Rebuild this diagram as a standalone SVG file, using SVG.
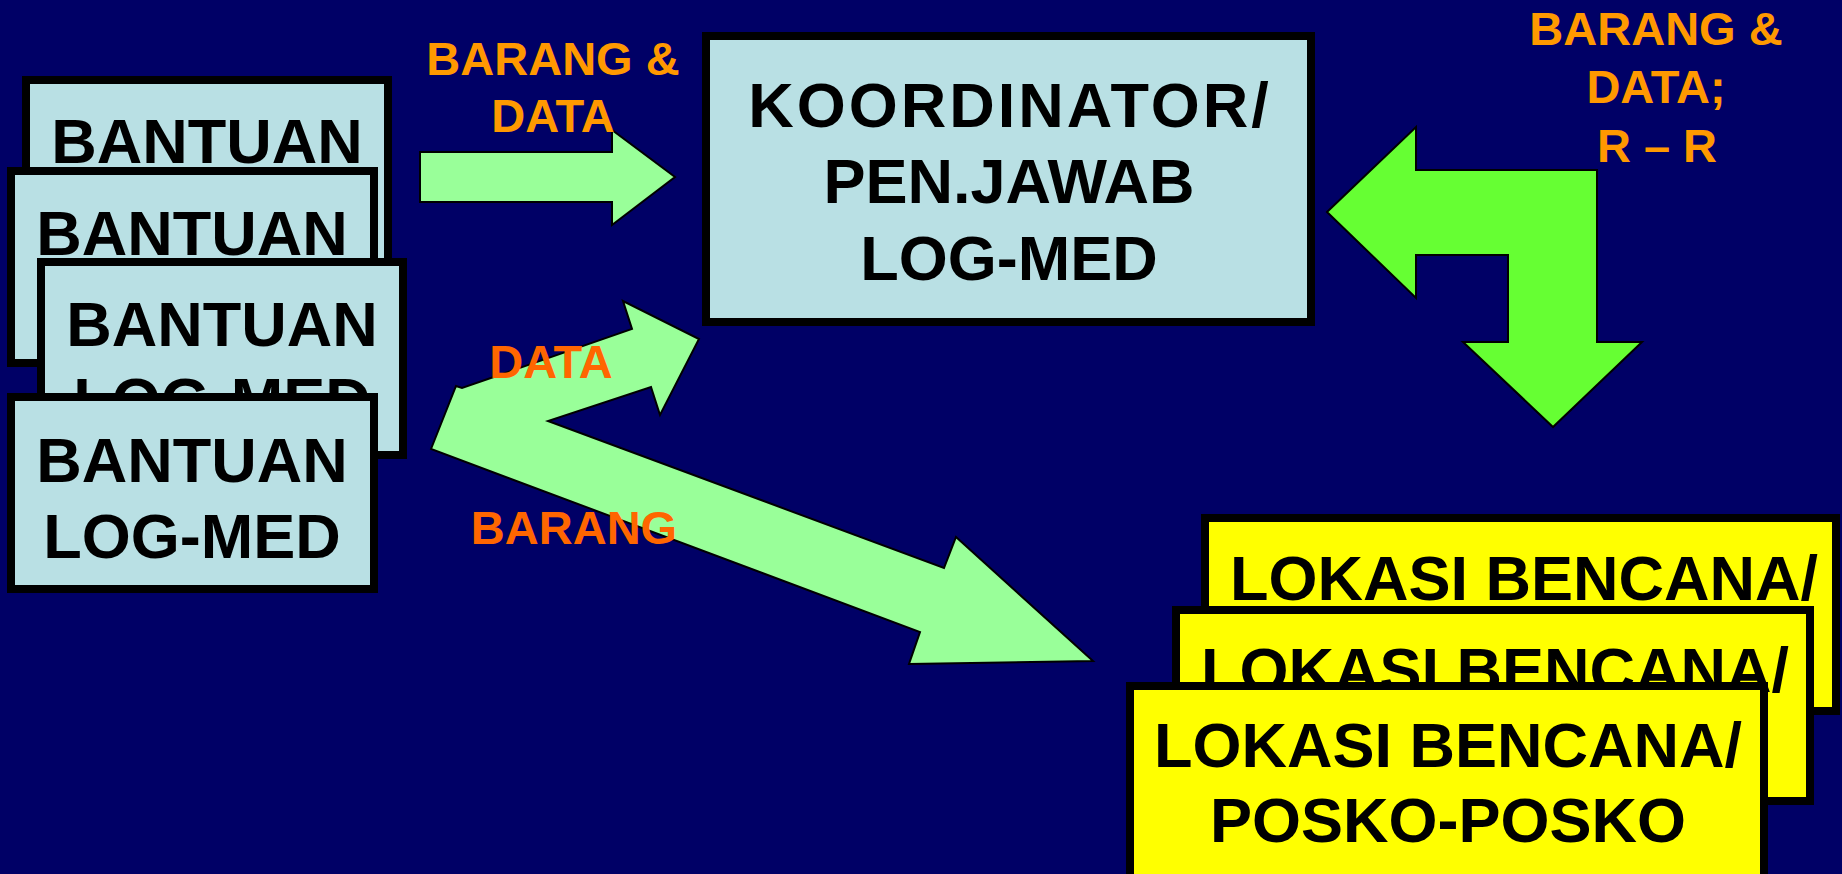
<svg xmlns="http://www.w3.org/2000/svg" width="1842" height="874" viewBox="0 0 1842 874">
  <style>
    .box { fill: #B9E0E4; stroke: #000; stroke-width: 8; }
    .ybox { fill: #FFFF00; stroke: #000; stroke-width: 8; }
    .t { font-family: "Liberation Sans", Arial, sans-serif; font-weight: bold; font-size: 63px; fill: #000; text-anchor: middle; }
    .lbl { font-family: "Liberation Sans", Arial, sans-serif; font-weight: bold; font-size: 47px; text-anchor: middle; }
    .or { fill: #FF9900; }
    .rd { fill: #FF6600; }
    .arr { fill: #99FF99; stroke: #000; stroke-width: 2; stroke-linejoin: miter; }
    .arr2 { fill: #66FF33; stroke: #000; stroke-width: 2; }
  </style>
  <rect width="1842" height="874" fill="#000066"/>

  <!-- stacked aid boxes -->
  <g id="bantuan-1">
    <rect class="box" x="26" y="80" width="362" height="192"/>
    <text class="t" x="207" y="163">BANTUAN</text>
  </g>
  <g id="bantuan-2">
    <rect class="box" x="11" y="171" width="363" height="192"/>
    <text class="t" x="192" y="255">BANTUAN</text>
  </g>
  <g id="bantuan-3">
    <rect class="box" x="41" y="262" width="362" height="193"/>
    <text class="t" x="222" y="346">BANTUAN</text>
    <text class="t" x="222" y="422">LOG-MED</text>
  </g>
  <g id="bantuan-4">
    <rect class="box" x="11" y="397" width="363" height="192"/>
    <text class="t" x="192" y="482">BANTUAN</text>
    <text class="t" x="192" y="558">LOG-MED</text>
  </g>

  <!-- coordinator -->
  <g id="koordinator">
    <rect class="box" x="706" y="36" width="605" height="286"/>
    <text class="t" x="1010" y="127" letter-spacing="3">KOORDINATOR/</text>
    <text class="t" x="1009" y="203">PEN.JAWAB</text>
    <text class="t" x="1009" y="280">LOG-MED</text>
  </g>

  <!-- disaster locations -->
  <g id="lokasi-1">
    <rect class="ybox" x="1205" y="518" width="631" height="193"/>
    <text class="t" x="1524" y="600">LOKASI BENCANA/</text>
  </g>
  <g id="lokasi-2">
    <rect class="ybox" x="1176" y="610" width="634" height="191"/>
    <text class="t" x="1495" y="692">LOKASI BENCANA/</text>
  </g>
  <g id="lokasi-3">
    <rect class="ybox" x="1130" y="686" width="634" height="220"/>
    <text class="t" x="1448" y="767">LOKASI BENCANA/</text>
    <text class="t" x="1448" y="842">POSKO-POSKO</text>
  </g>

  <!-- block arrows and their labels -->
  <g id="connectors">
    <polygon class="arr" points="420,152 612,152 612,130 675,177 612,225 612,202 420,202"/>
    <polygon class="arr" points="431,449 456,386 462,388 632,329 623,301 699,339 660,415 651,387 548,421 944,568 956,537 1093,661 909,664 920,632"/>
    <polygon class="arr2" points="1327,212 1416,127 1416,170 1597,170 1597,342 1642,342 1553,427 1463,342 1508,342 1508,255 1416,255 1416,298"/>

    <text class="lbl or" x="553" y="75">BARANG &amp;</text>
    <text class="lbl or" x="553" y="132">DATA</text>
    <text class="lbl or" x="1656" y="45">BARANG &amp;</text>
    <text class="lbl or" x="1656" y="103">DATA;</text>
    <text class="lbl or" x="1657" y="162">R – R</text>
    <text class="lbl rd" x="551" y="378">DATA</text>
    <text class="lbl rd" x="574" y="544">BARANG</text>
  </g>
</svg>
